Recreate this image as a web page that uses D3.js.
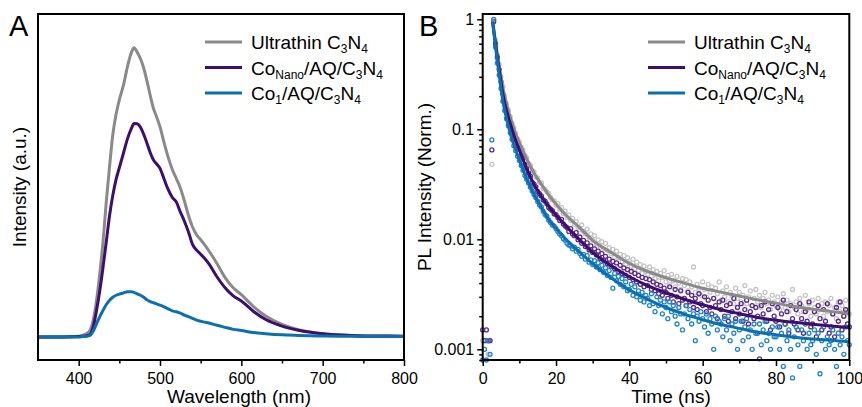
<!DOCTYPE html>
<html>
<head>
<meta charset="utf-8">
<script src="https://cdn.jsdelivr.net/npm/d3@7"></script>
<style>
body { margin: 0; background: #fff; }
svg text { font-family: "Liberation Sans", Arial, sans-serif; fill: #000; }
</style>
</head>
<body>
<script>
// panel A: steady-state PL spectra
var wavelengths = [350, 380, 400, 405, 410, 414, 418, 422, 426, 430, 434, 438, 442, 446, 450, 455, 460, 465, 468, 472,
    476, 480, 484, 488, 492, 496, 500, 505, 510, 515, 520, 525, 530, 535, 540, 545, 550, 555, 560, 570,
    580, 590, 600, 615, 630, 650, 670, 700, 735, 770, 800];
var plUltrathin = [0, 0, 0.002, 0.006, 0.012, 0.023, 0.06, 0.127, 0.22, 0.33, 0.47, 0.59, 0.70, 0.77, 0.82, 0.87, 0.935, 0.985, 1.0, 0.985,
    0.962, 0.93, 0.885, 0.835, 0.79, 0.76, 0.727, 0.672, 0.622, 0.58, 0.548, 0.515, 0.47, 0.42, 0.38, 0.353, 0.336, 0.318, 0.298, 0.254,
    0.205, 0.17, 0.146, 0.105, 0.072, 0.043, 0.025, 0.011, 0.005, 0.003, 0.002];
var plCoNano = [0, 0, 0.001, 0.002, 0.004, 0.008, 0.035, 0.092, 0.16, 0.242, 0.33, 0.42, 0.49, 0.545, 0.585, 0.635, 0.685, 0.722, 0.738, 0.737,
    0.725, 0.70, 0.67, 0.637, 0.612, 0.598, 0.583, 0.546, 0.51, 0.483, 0.467, 0.432, 0.40, 0.363, 0.32, 0.3, 0.286, 0.271, 0.253, 0.208,
    0.17, 0.142, 0.124, 0.088, 0.06, 0.037, 0.023, 0.011, 0.005, 0.003, 0.002];
var plCo1 = [0, 0, 0, 0.001, 0.002, 0.005, 0.02, 0.046, 0.07, 0.092, 0.112, 0.127, 0.137, 0.144, 0.148, 0.152, 0.156, 0.156, 0.154, 0.149,
    0.144, 0.137, 0.128, 0.122, 0.118, 0.114, 0.11, 0.104, 0.097, 0.09, 0.087, 0.082, 0.075, 0.07, 0.064, 0.058, 0.054, 0.051, 0.048, 0.04,
    0.033, 0.026, 0.022, 0.015, 0.011, 0.007, 0.005, 0.003, 0.002, 0.001, 0.001];

// panel B: decay counts, one value every 0.5 ns from 0 to 100 ns (10 per row = 5 ns)
var decayStep = 0.5;
var trUltrathin = [
    0.0012, 0.001, 0.0012, 0.0009, 0.0012, 0.048, 0.98, 0.64, 0.47, 0.39,
    0.30, 0.245, 0.20, 0.17, 0.15, 0.13, 0.113, 0.103, 0.092, 0.082,
    0.077, 0.069, 0.065, 0.058, 0.055, 0.049, 0.047, 0.042, 0.041, 0.037,
    0.036, 0.033, 0.0325, 0.029, 0.0285, 0.027, 0.0262, 0.024, 0.0228, 0.0225,
    0.0205, 0.0212, 0.0188, 0.0195, 0.0172, 0.018, 0.0158, 0.0166, 0.0148, 0.0155,
    0.0137, 0.0145, 0.0128, 0.0122, 0.0135, 0.0118, 0.0112, 0.0124, 0.0104, 0.0112,
    0.0098, 0.0108, 0.0091, 0.0099, 0.0087, 0.0095, 0.0082, 0.0092, 0.0079, 0.0084,
    0.0074, 0.0081, 0.0069, 0.0078, 0.0068, 0.0073, 0.0063, 0.0071, 0.0059, 0.0068,
    0.0061, 0.0057, 0.0066, 0.0054, 0.0062, 0.0052, 0.0059, 0.0049, 0.0057, 0.0051,
    0.0048, 0.0056, 0.0046, 0.0053, 0.0044, 0.0051, 0.0042, 0.0049, 0.0045, 0.0052,
    0.0041, 0.0047, 0.0039, 0.0048, 0.0042, 0.0037, 0.0046, 0.0040, 0.0035, 0.0044,
    0.0038, 0.0043, 0.0034, 0.0041, 0.0037, 0.0056, 0.0033, 0.0039, 0.0036, 0.0031,
    0.0041, 0.0035, 0.0030, 0.0039, 0.0033, 0.0037, 0.0029, 0.0036, 0.0032, 0.0041,
    0.0028, 0.0034, 0.0030, 0.0037, 0.0027, 0.0033, 0.0031, 0.0026, 0.0036, 0.0029,
    0.0033, 0.0027, 0.0031, 0.0038, 0.0026, 0.0030, 0.0034, 0.0025, 0.0029, 0.0035,
    0.0027, 0.0031, 0.0024, 0.0029, 0.0033, 0.0026, 0.0028, 0.0023, 0.0031, 0.0027,
    0.0025, 0.0030, 0.0023, 0.0027, 0.0032, 0.0024, 0.0028, 0.0022, 0.0026, 0.0035,
    0.0024, 0.0027, 0.0021, 0.0029, 0.0025, 0.0022, 0.0031, 0.0023, 0.0026, 0.0020,
    0.0028, 0.0024, 0.0021, 0.0029, 0.0023, 0.0026, 0.0020, 0.0027, 0.0022, 0.0025,
    0.0029, 0.0021, 0.0024, 0.0019, 0.0027, 0.0022, 0.0025, 0.0020, 0.0028, 0.0023,
    0.0021];
var trCoNano = [
    0.0015, 0.0012, 0.0015, 0.0012, 0.0012, 0.065, 0.95, 0.60, 0.45, 0.35,
    0.27, 0.21, 0.176, 0.15, 0.131, 0.113, 0.099, 0.089, 0.080, 0.071,
    0.066, 0.058, 0.054, 0.048, 0.044, 0.040, 0.0375, 0.033, 0.0318, 0.030,
    0.0272, 0.026, 0.0248, 0.0228, 0.0222, 0.021, 0.0195, 0.0188, 0.0182, 0.017,
    0.0168, 0.0158, 0.0148, 0.0152, 0.0138, 0.0132, 0.0128, 0.0118, 0.0125, 0.0112,
    0.0108, 0.0115, 0.0099, 0.0105, 0.0092, 0.0098, 0.0086, 0.0093, 0.0080, 0.0087,
    0.0076, 0.0082, 0.0072, 0.0078, 0.0067, 0.0074, 0.0064, 0.0070, 0.0060, 0.0066,
    0.0057, 0.0063, 0.0054, 0.0061, 0.0051, 0.0058, 0.0049, 0.0055, 0.0047, 0.0053,
    0.0045, 0.0051, 0.0043, 0.0049, 0.0041, 0.0047, 0.0039, 0.0045, 0.0037, 0.0044,
    0.0038, 0.0043, 0.0035, 0.0041, 0.0034, 0.0039, 0.0032, 0.0038, 0.0031, 0.0036,
    0.0033, 0.0029, 0.0037, 0.0031, 0.0027, 0.0035, 0.0030, 0.0026, 0.0034, 0.0028,
    0.0029, 0.0025, 0.0033, 0.0027, 0.0031, 0.0024, 0.0029, 0.0023, 0.0032, 0.0026,
    0.0025, 0.0030, 0.0022, 0.0028, 0.0024, 0.0021, 0.0029, 0.0025, 0.0019, 0.0027,
    0.0023, 0.0028, 0.0020, 0.0025, 0.0018, 0.0026, 0.0022, 0.0029, 0.0019, 0.0024,
    0.0021, 0.0026, 0.0018, 0.0023, 0.0028, 0.0017, 0.0022, 0.0025, 0.0019, 0.0024,
    0.0020, 0.00082, 0.0025, 0.0021, 0.0027, 0.0018, 0.0023, 0.0015, 0.0026, 0.0020,
    0.0018, 0.0024, 0.0016, 0.0021, 0.0028, 0.0017, 0.0022, 0.0014, 0.0025, 0.0019,
    0.0017, 0.0023, 0.0015, 0.0026, 0.0019, 0.0014, 0.0022, 0.0018, 0.0027, 0.0016,
    0.0017, 0.0022, 0.0013, 0.0025, 0.0019, 0.0015, 0.0023, 0.0018, 0.0026, 0.0014,
    0.0016, 0.0021, 0.0013, 0.0024, 0.0018, 0.0027, 0.0015, 0.0020, 0.0023, 0.0017,
    0.0016];
var trCo1 = [
    0.0008, 0.001, 0.0008, 0.0012, 0.0009, 0.08, 1.0, 0.56, 0.40, 0.31,
    0.235, 0.18, 0.148, 0.125, 0.108, 0.093, 0.081, 0.071, 0.064, 0.057,
    0.052, 0.047, 0.0425, 0.038, 0.0352, 0.0325, 0.0298, 0.0275, 0.0255, 0.024,
    0.0221, 0.0205, 0.0197, 0.018, 0.0168, 0.0162, 0.015, 0.0142, 0.0135, 0.0132,
    0.0125, 0.0118, 0.0112, 0.0108, 0.0101, 0.0098, 0.0092, 0.0089, 0.0087, 0.0082,
    0.0085, 0.0078, 0.0081, 0.0074, 0.0070, 0.0073, 0.0066, 0.0071, 0.0062, 0.0065,
    0.0059, 0.0064, 0.0056, 0.0061, 0.0053, 0.0058, 0.0050, 0.0055, 0.0047, 0.0052,
    0.0045, 0.0036, 0.0049, 0.0042, 0.0046, 0.0039, 0.0044, 0.0037, 0.0041, 0.0034,
    0.0035, 0.0039, 0.0031, 0.0037, 0.0030, 0.0034, 0.0028, 0.0033, 0.0027, 0.0031,
    0.0029, 0.0025, 0.0032, 0.0026, 0.0022, 0.0030, 0.0025, 0.0028, 0.0021, 0.0027,
    0.0024, 0.0019, 0.0027, 0.0022, 0.0025, 0.0020, 0.0017, 0.0024, 0.0021, 0.0015,
    0.0021, 0.0025, 0.0019, 0.0023, 0.0017, 0.0021, 0.0012, 0.0020, 0.0018, 0.0022,
    0.0019, 0.0016, 0.0021, 0.0014, 0.0019, 0.0017, 0.0010, 0.0020, 0.0015, 0.0018,
    0.0017, 0.0013, 0.0019, 0.0015, 0.0020, 0.0012, 0.0017, 0.0014, 0.0018, 0.0010,
    0.0015, 0.0018, 0.0012, 0.0016, 0.0019, 0.0013, 0.0015, 0.0010, 0.0017, 0.0014,
    0.0014, 0.0017, 0.0011, 0.0015, 0.0018, 0.0012, 0.0014, 0.0010, 0.0016, 0.0013,
    0.0013, 0.0016, 0.0010, 0.0014, 0.0007, 0.0017, 0.0012, 0.0015, 0.0010, 0.00055,
    0.0013, 0.0016, 0.0011, 0.0007, 0.0015, 0.0012, 0.0017, 0.0010, 0.0014, 0.0011,
    0.0012, 0.0015, 0.0009, 0.0014, 0.0006, 0.0012, 0.0016, 0.0010, 0.0013, 0.0011,
    0.0012, 0.0015, 0.0010, 0.0007, 0.0014, 0.0011, 0.0013, 0.0009, 0.0016, 0.0012,
    0.0011];

// fitted decay curves
var fitTimes = [2.7, 3, 3.5, 4, 4.5, 5, 5.5, 6, 7, 8, 9, 10, 12, 14, 16, 18, 20, 23, 26, 30, 35, 40, 45, 50, 55, 60, 65, 70, 75, 80, 85, 90, 95, 100];
var fitUltrathin = [1.0, 0.83, 0.63, 0.48, 0.38, 0.30, 0.24, 0.20, 0.148, 0.115, 0.091, 0.076, 0.054, 0.040, 0.0316, 0.0254, 0.0209, 0.0162, 0.0132, 0.0098,
    0.0076, 0.00605, 0.0051, 0.00447, 0.0040, 0.00359, 0.00331, 0.00305, 0.00282, 0.00263, 0.00245, 0.00232, 0.00221, 0.00212];
var fitCoNano = [0.95, 0.79, 0.60, 0.45, 0.35, 0.27, 0.21, 0.174, 0.129, 0.100, 0.079, 0.065, 0.0437, 0.0316, 0.0245, 0.020, 0.0166, 0.0129, 0.0102, 0.0076,
    0.00575, 0.00457, 0.0038, 0.00327, 0.00285, 0.00254, 0.00229, 0.00211, 0.00195, 0.00184, 0.00176, 0.00169, 0.00163, 0.00158];
var fitCo1 = [0.95, 0.78, 0.56, 0.41, 0.31, 0.234, 0.182, 0.148, 0.107, 0.081, 0.065, 0.0525, 0.0355, 0.0257, 0.0195, 0.0151, 0.0126, 0.0098, 0.0079, 0.0060,
    0.00447, 0.00347, 0.00285, 0.0024, 0.00209, 0.00186, 0.00168, 0.00155, 0.00143, 0.00136, 0.00129, 0.00124, 0.00121, 0.00117];

var lineColors = ["#8a8a8a", "#3d0e70", "#0b6fb3"];
var pointColors = ["#c4c4c4", "#5a2a8c", "#1f85c8"];
// [text, isSubscript]
var legendLabels = [
    [["Ultrathin C", 0], ["3", 1], ["N", 0], ["4", 1]],
    [["Co", 0], ["Nano", 1], ["/AQ/C", 0], ["3", 1], ["N", 0], ["4", 1]],
    [["Co", 0], ["1", 1], ["/AQ/C", 0], ["3", 1], ["N", 0], ["4", 1]]
];
var wlTicks = [400, 500, 600, 700, 800];
var wlMinor = [450, 550, 650, 750];
var timeTicks = [0, 20, 40, 60, 80, 100];
var timeMinor = [10, 30, 50, 70, 90];
var plTicks = [1, 0.1, 0.01, 0.001];
var plTickLabels = ["1", "0.1", "0.01", "0.001"];

var FONT = "Liberation Sans, Arial, sans-serif";
var svg = d3.select("body").append("svg").attr("width", 862).attr("height", 407);

function frame(x, y) {
    var r = x.range(), s = y.range();
    svg.append("rect")
        .attr("x", r[0]).attr("y", s[1])
        .attr("width", r[1] - r[0]).attr("height", s[0] - s[1])
        .attr("fill", "none").attr("stroke", "#000").attr("stroke-width", 2);
}

function tidy(g) {
    g.select(".domain").remove();
    g.attr("font-family", FONT).attr("font-size", 16);
    g.selectAll(".tick line").attr("stroke", "#000").attr("stroke-width", 1.5);
    g.selectAll(".tick text").attr("fill", "#000");
}

function legend(x0, y0) {
    legendLabels.forEach(function(parts, i) {
        var y = y0 + i * 25.5;
        svg.append("line")
            .attr("x1", x0).attr("x2", x0 + 37).attr("y1", y).attr("y2", y)
            .attr("stroke", lineColors[i]).attr("stroke-width", 3);
        var t = svg.append("text").attr("x", x0 + 46).attr("y", y + 7).attr("font-size", 19);
        var low = false;
        parts.forEach(function(p) {
            var sp = t.append("tspan").text(p[0]);
            if (p[1]) {
                sp.attr("font-size", 12);
                if (!low) sp.attr("dy", 4);
                low = true;
            } else if (low) {
                sp.attr("dy", -4);
                low = false;
            }
        });
    });
}

// ---- panel A ----
var ax = d3.scaleLinear().domain([350, 800]).range([38, 404]);
var ay = d3.scaleLinear().domain([-0.08, 1.117]).range([360, 14]);

var spectra = [plUltrathin, plCoNano, plCo1];
var specLine = d3.line()
    .x(function(d) { return ax(d[0]); })
    .y(function(d) { return ay(d[1]); })
    .curve(d3.curveMonotoneX);

spectra.forEach(function(vals, i) {
    svg.append("path")
        .datum(wavelengths.map(function(w, j) { return [w, vals[j]]; }))
        .attr("d", specLine)
        .attr("fill", "none")
        .attr("stroke", lineColors[i])
        .attr("stroke-width", 3)
        .attr("stroke-linejoin", "round");
});

svg.append("g").attr("transform", "translate(0,360)")
    .call(d3.axisBottom(ax).tickValues(wlTicks).tickSize(6).tickPadding(7).tickFormat(d3.format("d")))
    .call(tidy);
svg.append("g").attr("transform", "translate(0,360)")
    .call(d3.axisBottom(ax).tickValues(wlMinor).tickSize(3.5).tickFormat(""))
    .call(tidy);
frame(ax, ay);

svg.append("text").attr("x", 239).attr("y", 403).attr("text-anchor", "middle")
    .attr("font-size", 19).text("Wavelength (nm)");
svg.append("text").attr("transform", "translate(26,187) rotate(-90)").attr("text-anchor", "middle")
    .attr("font-size", 19).text("Intensity (a.u.)");
svg.append("text").attr("x", 9).attr("y", 36).attr("font-size", 29).text("A");
legend(205, 42);

// ---- panel B ----
var bx = d3.scaleLinear().domain([0, 100]).range([482.7, 849.3]);
var by = d3.scaleLog().domain([0.0008, 1.117]).range([360, 14]);

var decays = [trUltrathin, trCoNano, trCo1];
decays.forEach(function(vals, i) {
    svg.append("g").selectAll("circle")
        .data(vals.map(function(v, j) { return [j * decayStep, v]; }))
        .join("circle")
        .attr("cx", function(d) { return bx(d[0]); })
        .attr("cy", function(d) { return by(d[1]); })
        .attr("r", 2)
        .attr("fill", "none")
        .attr("stroke", pointColors[i])
        .attr("stroke-width", 1.3);
});

var fitLine = d3.line()
    .x(function(d) { return bx(d[0]); })
    .y(function(d) { return by(d[1]); })
    .curve(d3.curveMonotoneX);
[fitUltrathin, fitCoNano, fitCo1].forEach(function(vals, i) {
    svg.append("path")
        .datum(fitTimes.map(function(t, j) { return [t, vals[j]]; }))
        .attr("d", fitLine)
        .attr("fill", "none")
        .attr("stroke", lineColors[i])
        .attr("stroke-width", 3);
});

var plMinor = [];
[0.0001, 0.001, 0.01, 0.1].forEach(function(dec) {
    for (var k = 2; k <= 9; k++) {
        var v = dec * k;
        if (v >= 0.0008 && v <= 1.117) plMinor.push(v);
    }
});

svg.append("g").attr("transform", "translate(0,360)")
    .call(d3.axisBottom(bx).tickValues(timeTicks).tickSize(6).tickPadding(7))
    .call(tidy);
svg.append("g").attr("transform", "translate(0,360)")
    .call(d3.axisBottom(bx).tickValues(timeMinor).tickSize(3.5).tickFormat(""))
    .call(tidy);
svg.append("g").attr("transform", "translate(482.7,0)")
    .call(d3.axisLeft(by).tickValues(plTicks).tickSize(5.5).tickPadding(3)
        .tickFormat(function(d, i) { return plTickLabels[i]; }))
    .call(tidy);
svg.append("g").attr("transform", "translate(482.7,0)")
    .call(d3.axisLeft(by).tickValues(plMinor).tickSize(3.5).tickFormat(""))
    .call(tidy);
frame(bx, by);

svg.append("text").attr("x", 671).attr("y", 403).attr("text-anchor", "middle")
    .attr("font-size", 19).text("Time (ns)");
svg.append("text").attr("transform", "translate(431,187) rotate(-90)").attr("text-anchor", "middle")
    .attr("font-size", 19).text("PL Intensity (Norm.)");
svg.append("text").attr("x", 419).attr("y", 36).attr("font-size", 29).text("B");
legend(648, 42);
</script>
</body>
</html>
